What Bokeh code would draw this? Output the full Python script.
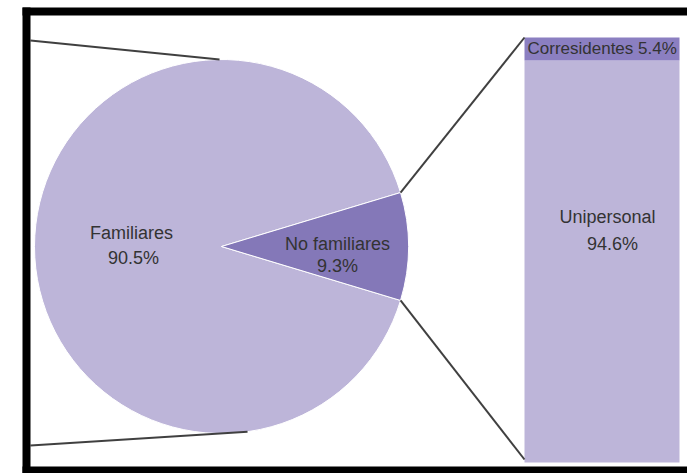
import math
from bokeh.plotting import figure
from bokeh.models import Range1d
from bokeh.core.properties import value
from bokeh.embed import file_html
from bokeh.resources import INLINE

# ---- data ----
pie_labels = ["Familiares", "No familiares"]
pie_values = [90.5, 9.3]
bar_labels = ["Unipersonal", "Corresidentes"]
bar_values = [94.6, 5.4]

# ---- layout (picture pixel coordinates) ----
W, H = 687, 473
X0, Y0 = 0, 0

def Y(py):
    return -py

LIGHT = "#BDB5D9"
DARK = "#8478B8"
BAND = "#8B7FC1"
TXT = "#333333"
LINE = "#404040"
FONT = value("Liberation Sans")

p = figure(width=W, height=H, output_backend="svg", toolbar_location=None,
           x_range=Range1d(X0, X0 + W), y_range=Range1d(Y(Y0 + H), Y(Y0)),
           x_axis_type=None, y_axis_type=None, min_border=0)
p.grid.visible = False
p.outline_line_color = None
p.background_fill_color = "white"
p.border_fill_color = "white"

# pie
cx, cy, r = 221, 246, 187
total = sum(pie_values)
theta = 2 * math.pi * pie_values[1] / total
p.wedge(x=[cx], y=[Y(cy)], radius=r, start_angle=theta / 2,
        end_angle=2 * math.pi - theta / 2, fill_color=LIGHT,
        line_color="white", line_width=1)
p.wedge(x=[cx], y=[Y(cy)], radius=r, start_angle=-theta / 2,
        end_angle=theta / 2, fill_color=DARK, line_color="white", line_width=1)

# bar (stacked)
bx0, bx1, btop, bbot = 524, 679, 37, 462
bh = bbot - btop
cum = 0.0
colors = [LIGHT, BAND]
for v, c in zip(bar_values, colors):
    yb = bbot - cum / 100 * bh
    yt = bbot - (cum + v) / 100 * bh
    p.quad(left=[bx0], right=[bx1], bottom=[Y(yb)], top=[Y(yt)],
           fill_color=c, line_color=None)
    cum += v

# connector lines from wedge corners to bar corners
ux = cx + r * math.cos(theta / 2)
uy = cy - r * math.sin(theta / 2)
lx = cx + r * math.cos(-theta / 2)
ly = cy - r * math.sin(-theta / 2)
p.line(x=[ux, bx0], y=[Y(uy), Y(btop)], line_color=LINE, line_width=2)
p.line(x=[lx, bx0], y=[Y(ly), Y(bbot - 3)], line_color=LINE, line_width=2)

# stray connector lines at left
tx = cx + r * math.cos(math.radians(90.6))
ty = cy - r * math.sin(math.radians(90.6))
p.line(x=[30, tx], y=[Y(40), Y(ty)], line_color=LINE, line_width=2)
bxp = cx + r * math.cos(math.radians(-82))
byp = cy - r * math.sin(math.radians(-82))
p.line(x=[30, bxp], y=[Y(445), Y(byp)], line_color=LINE, line_width=2)

# labels
def label(x, y, t, size="18px", align="center"):
    p.text(x=[x], y=[Y(y)], text=[t], text_font=FONT, text_font_size=size,
           text_color=TXT, text_align=align, text_baseline="middle")

label(131, 232, pie_labels[0])
label(133, 257, f"{pie_values[0]}%")
label(337, 243, pie_labels[1])
label(337, 265, f"{pie_values[1]}%")
label(607, 216, bar_labels[0])
label(612, 243, f"{bar_values[0]}%")
label(527, 48, f"{bar_labels[1]} {bar_values[1]}%", size="17px", align="left")

# black frame
p.quad(left=[22], right=[687], top=[Y(7)], bottom=[Y(15)], fill_color="black", line_color=None)
p.quad(left=[22], right=[30], top=[Y(7)], bottom=[Y(473)], fill_color="black", line_color=None)
p.quad(left=[22], right=[687], top=[Y(466)], bottom=[Y(473)], fill_color="black", line_color=None)

open("out.html", "w").write(file_html(p, INLINE))
